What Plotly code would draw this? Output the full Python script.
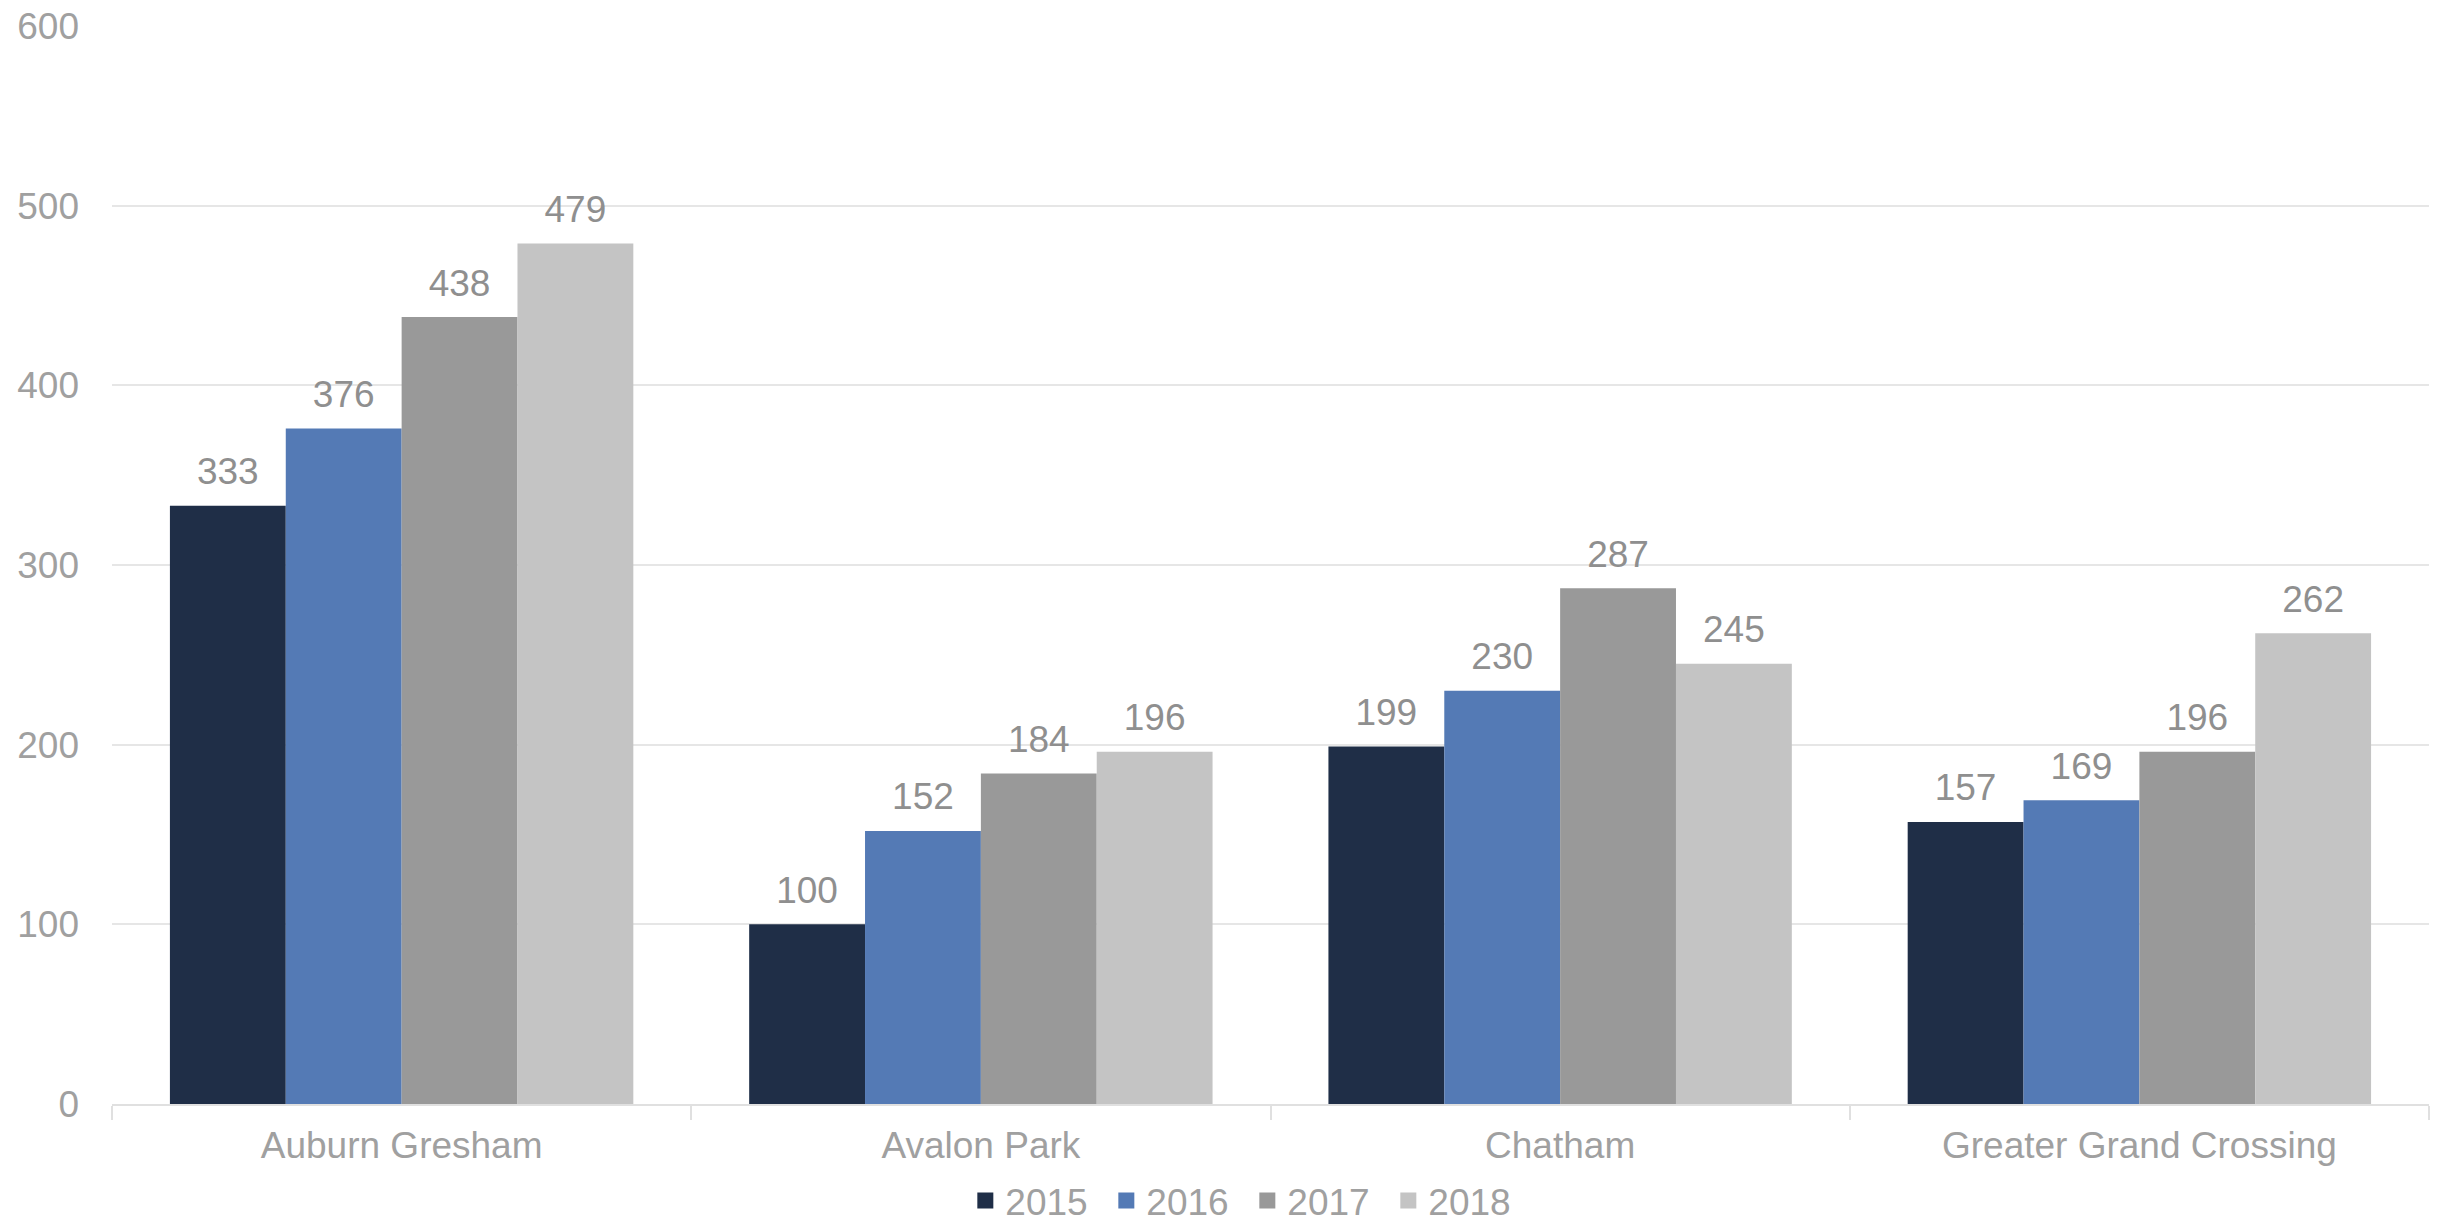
import plotly.graph_objects as go

categories = ["Auburn Gresham", "Avalon Park", "Chatham", "Greater Grand Crossing"]
years = ["2015", "2016", "2017", "2018"]
v2015 = [333, 100, 199, 157]
v2016 = [376, 152, 230, 169]
v2017 = [438, 184, 287, 196]
v2018 = [479, 196, 245, 262]
series = [v2015, v2016, v2017, v2018]
colors = ["#1F2E47", "#547AB5", "#999999", "#C4C4C4"]

FONT = "Liberation Sans, Arial, sans-serif"
FS = 37

fig = go.Figure()
for name, vals, col in zip(years, series, colors):
    fig.add_trace(go.Bar(
        name=name, x=categories, y=vals, marker_color=col,
        marker_line_width=0, hoverinfo="skip",
        offsetgroup=name, showlegend=False,
    ))
# data labels, grouped the same way as the bars
for name, vals in zip(years, series):
    fig.add_trace(go.Scatter(
        x=categories, y=vals, mode="markers+text",
        text=[str(v) for v in vals], textposition="top center",
        textfont=dict(family=FONT, size=FS, color="#8F8F8F"),
        marker=dict(size=18, color="rgba(0,0,0,0)"),
        showlegend=False, offsetgroup=name, cliponaxis=False,
        hoverinfo="skip",
    ))
# legend entries (square swatches)
for name, col in zip(years, colors):
    fig.add_trace(go.Scatter(
        x=[None], y=[None], mode="markers", name=name,
        marker=dict(symbol="square", size=16, color=col),
        offsetgroup=name, showlegend=True,
    ))

fig.update_layout(
    width=2438, height=1232,
    barmode="group", bargap=0.2, bargroupgap=0,
    scattermode="group", scattergap=0.2,
    plot_bgcolor="white", paper_bgcolor="white",
    margin=dict(l=112, r=9, t=26, b=128),
    font=dict(family=FONT, size=FS, color="#A0A0A0"),
    xaxis=dict(
        showline=True, linecolor="#E0E0E0", linewidth=2,
        ticks="outside", tickson="boundaries", ticklen=14, tickcolor="#E0E0E0", tickwidth=2,
        tickfont=dict(family=FONT, size=FS, color="#A0A0A0"),
        ticklabelstandoff=8, automargin=False,
    ),
    yaxis=dict(
        range=[0, 600], dtick=100, showgrid=True, gridcolor="#E6E6E6", gridwidth=2,
        zeroline=False, showline=False, ticks="",
        tickfont=dict(family=FONT, size=FS, color="#A0A0A0"),
        ticklabelstandoff=32, automargin=False,
    ),
    legend=dict(
        orientation="h", x=0.49, xanchor="center",
        yref="container", y=0, yanchor="bottom",
        font=dict(family=FONT, size=FS, color="#A0A0A0"),
        itemwidth=30, traceorder="normal", entrywidth=96,
    ),
    showlegend=True,
)

fig.write_html("out.html")
